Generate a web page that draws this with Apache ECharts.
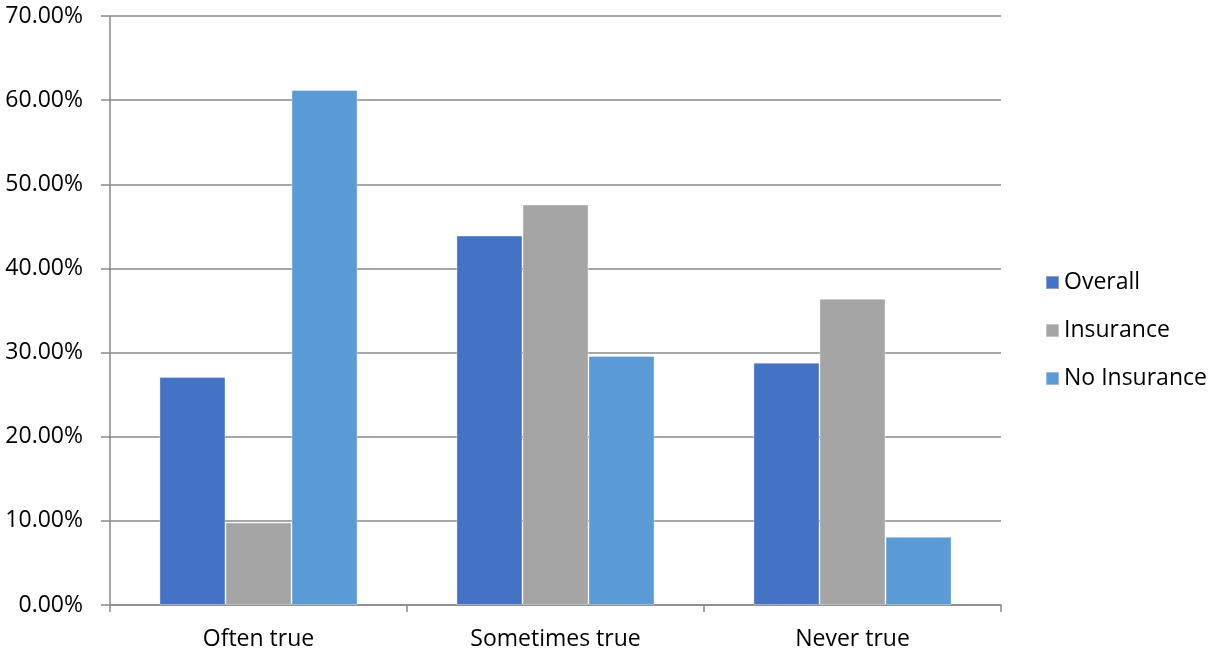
<!DOCTYPE html>
<html>
<head>
<meta charset="utf-8">
<script src="https://cdn.jsdelivr.net/npm/echarts@6/dist/echarts.min.js"></script>
<style>
  html, body { margin: 0; padding: 0; background: #ffffff; }
  #chart { width: 1217px; height: 654px; }
</style>
</head>
<body>
<div id="chart"></div>
<script>
// Answer categories along the x axis
const categories = ['Often true', 'Sometimes true', 'Never true'];

// Share of respondents (percent) for each group
const overall     = [27.1, 43.9, 28.8];
const insurance   = [9.8, 47.6, 36.4];
const noInsurance = [61.2, 29.6, 8.1];

const seriesNames = ['Overall', 'Insurance', 'No Insurance'];
const colors = ['#4472C4', '#A5A5A5', '#5B9BD5'];

const font = '"Open Sans", sans-serif';
const lineGray = '#898989';

const chart = echarts.init(document.getElementById('chart'), null, { renderer: 'canvas' });

function barSeries(name, data, color) {
  return {
    name: name,
    type: 'bar',
    data: data,
    barGap: '0%',
    barCategoryGap: '33.3%',
    itemStyle: { color: color, borderColor: 'rgba(255,255,255,0.35)', borderWidth: 1 },
    emphasis: { disabled: true }
  };
}

chart.setOption({
  animation: false,
  backgroundColor: '#ffffff',
  grid: { left: 110, right: 216, top: 16, bottom: 49, containLabel: false },
  legend: {
    orient: 'vertical',
    left: 1040,
    top: 266,
    icon: 'rect',
    itemWidth: 13,
    itemHeight: 13,
    itemGap: 25,
    textStyle: { fontFamily: font, fontSize: 23, color: '#000000', padding: [0, 0, 0, 0] },
    data: seriesNames
  },
  xAxis: {
    type: 'category',
    data: categories,
    axisLine: { show: true, lineStyle: { color: lineGray, width: 1.5 } },
    axisTick: { show: true, length: 7, alignWithLabel: false, lineStyle: { color: lineGray, width: 1.5 } },
    axisLabel: { fontFamily: font, fontSize: 23, color: '#000000', margin: 23 }
  },
  yAxis: {
    type: 'value',
    min: 0,
    max: 70,
    interval: 10,
    axisLine: { show: true, lineStyle: { color: lineGray, width: 1.5 } },
    axisTick: { show: true, length: 9, lineStyle: { color: lineGray, width: 1.5 } },
    splitLine: { show: true, lineStyle: { color: lineGray, width: 1.5 } },
    axisLabel: {
      fontFamily: font, fontSize: 23, color: '#000000', margin: 27,
      formatter: function (v) { return v.toFixed(2) + '%'; }
    }
  },
  series: [
    barSeries(seriesNames[0], overall, colors[0]),
    barSeries(seriesNames[1], insurance, colors[1]),
    barSeries(seriesNames[2], noInsurance, colors[2])
  ]
});
</script>
</body>
</html>
